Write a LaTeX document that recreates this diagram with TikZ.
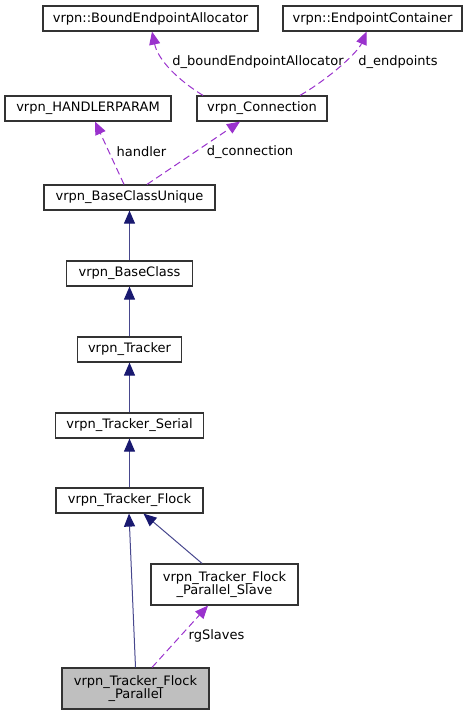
\documentclass[tikz,border=0pt]{standalone}
\usepackage{fontspec}
\setmainfont{DejaVu Sans}
\usetikzlibrary{arrows.meta,positioning}
\definecolor{edgeblue}{RGB}{25,25,112}
\definecolor{relpurple}{RGB}{154,50,205}
\definecolor{curgray}{RGB}{191,191,191}
\tikzset{
  cls/.style={draw=black!80, line width=1.2pt, fill=white, inner sep=0pt,
              font=\fontsize{13}{13.5}\selectfont, align=center, minimum height=25pt},
  cur/.style={cls, fill=curgray, minimum height=41pt},
  inh/.style={-{Triangle[length=13pt,width=11pt,color=edgeblue]}, edgeblue!80, line width=1pt},
  usage/.style={-{Triangle[length=13pt,width=11pt,color=relpurple]}, relpurple, line width=1pt,
              dash pattern=on 7pt off 4pt},
  lbl/.style={font=\fontsize{13}{13.5}\selectfont, inner sep=0pt},
}
\begin{document}
\begin{tikzpicture}[x=1pt, y=-1pt]
    \useasboundingbox (0,0) rectangle (467,715);
    \node[cls, minimum width=215pt] (bea) at (150.5,18.5) {vrpn::BoundEndpointAllocator};
    \node[cls, minimum width=179pt] (epc) at (372.5,18.5) {vrpn::EndpointContainer};
    \node[cls, minimum width=166pt] (hp) at (88,108.5) {vrpn\_HANDLERPARAM};
    \node[cls, minimum width=130pt] (conn) at (262,108.5) {vrpn\_Connection};
    \node[cls, minimum width=171pt] (bcu) at (129.5,197.5) {vrpn\_BaseClassUnique};
    \node[cls, minimum width=126pt, below=49.8pt of bcu] (bc) {vrpn\_BaseClass};
    \node[cls, minimum width=104pt, below=49.8pt of bc] (trk) {vrpn\_Tracker};
    \node[cls, minimum width=148pt, below=49.8pt of trk] (ser) {vrpn\_Tracker\_Serial};
    \node[cls, minimum width=147pt, below=48.8pt of ser] (flock) {vrpn\_Tracker\_Flock};
    \node[cls, minimum width=147pt, minimum height=41pt] (slave) at (224.5,584.5) {vrpn\_Tracker\_Flock\\\_Parallel\_Slave};
    \node[cur, minimum width=147pt] (par) at (135.5,688.5) {vrpn\_Tracker\_Flock\\\_Parallel};
    % inheritance
    \draw[inh] (bc) -- (bcu); \draw[inh] (trk) -- (bc); \draw[inh] (ser) -- (trk); \draw[inh] (flock) -- (ser);
    \draw[inh] (par.north) -- ([xshift=-0.5pt]flock.south);
    \draw[inh] ([xshift=-22.5pt]slave.north) -- ([xshift=14pt]flock.south);
    % members
    \draw[usage] ([xshift=16.5pt]par.north) -- ([xshift=-16.5pt]slave.south);
    \draw[usage] ([xshift=-5.5pt]bcu.north) -- ([xshift=7pt]hp.south);
    \draw[usage] ([xshift=17.5pt]bcu.north) -- ([xshift=-22pt]conn.south);
    \draw[usage] ([xshift=-59pt]conn.north) .. controls (178,80) and (158,60) .. ([xshift=1.5pt]bea.south);
    \draw[usage] ([xshift=38pt]conn.north) .. controls (330,78) and (358,52) .. ([xshift=-6pt]epc.south);
    \node[lbl] (l1) at (258,62) {d\_boundEndpointAllocator};
    \node[lbl] (l2) at (398,62) {d\_endpoints};
    \node[lbl] (l3) at (141.5,152) {handler};
    \node[lbl] (l4) at (250,152) {d\_connection};
    \node[lbl] (l5) at (216.5,636) {rgSlaves};
  \end{tikzpicture}
\end{document}
